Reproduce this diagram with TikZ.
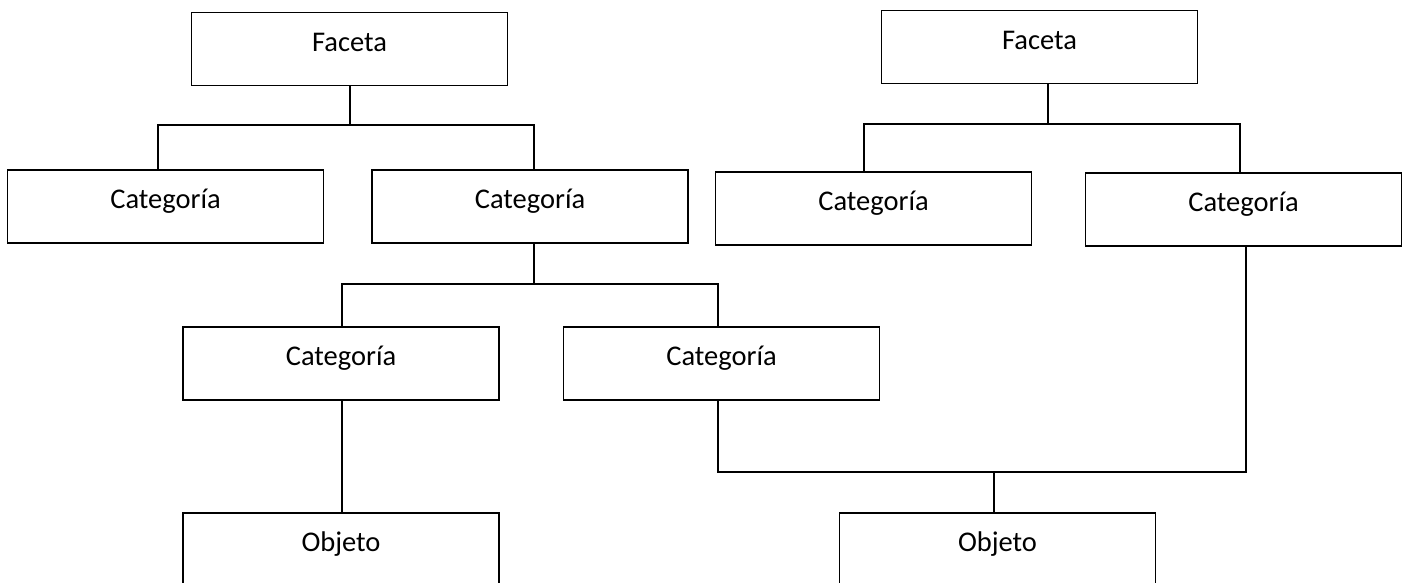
\documentclass[tikz,border=0pt]{standalone}
\usepackage{fontspec}
\setmainfont{Carlito}
\begin{document}
\begin{tikzpicture}[x=1pt,y=-1pt,
  box/.style={draw=black, line width=1.8pt, rectangle, anchor=north, inner sep=0pt,
    minimum width=316pt, text height=39pt, text depth=34pt,
    font=\fontsize{28.5}{34}\selectfont},
  wire/.style={draw=black, line width=1.8pt}]
\clip (0,0) rectangle (1409,582);
\fill[white] (0,0) rectangle (1409,582);
% boxes
\node[box] (f1) at (349.5,11.5) {Faceta};
\node[box] (f2) at (1039.5,9.5) {Faceta};
\node[box] (c1) at (165.5,169) {Categoría};
\node[box] (c2) at (530,169) {Categoría};
\node[box] (c3) at (873.5,171) {Categoría};
\node[box] (c4) at (1243.5,172) {Categoría};
\node[box] (c5) at (341,326) {Categoría};
\node[box] (c6) at (721.5,326) {Categoría};
\node[box] (o1) at (341,512) {Objeto};
\node[box] (o2) at (997.5,512) {Objeto};
% junction coordinates
\coordinate (j1) at (350,125);
\coordinate (j1l) at (158,125);
\coordinate (j1r) at (534,125);
\coordinate (j2) at (1048,124);
\coordinate (j2l) at (864,124);
\coordinate (j2r) at (1240,124);
\coordinate (j3) at (534,284);
\coordinate (j3l) at (342,284);
\coordinate (j3r) at (718,284);
\coordinate (j4l) at (718,472);
\coordinate (j4) at (994,472);
\coordinate (j4r) at (1246,472);
% connectors
\draw[wire] (f1.south -| j1) -- (j1);
\draw[wire] (c1.north -| j1l) -- (j1l) -- (j1r) -- (c2.north -| j1r);
\draw[wire] (f2.south -| j2) -- (j2);
\draw[wire] (c3.north -| j2l) -- (j2l) -- (j2r) -- (c4.north -| j2r);
\draw[wire] (c2.south -| j3) -- (j3);
\draw[wire] (c5.north -| j3l) -- (j3l) -- (j3r) -- (c6.north -| j3r);
\draw[wire] (c5.south -| j3l) -- (o1.north -| j3l);
\draw[wire] (c6.south -| j4l) -- (j4l) -- (j4r) -- (c4.south -| j4r);
\draw[wire] (j4) -- (o2.north -| j4);
\end{tikzpicture}
\end{document}
